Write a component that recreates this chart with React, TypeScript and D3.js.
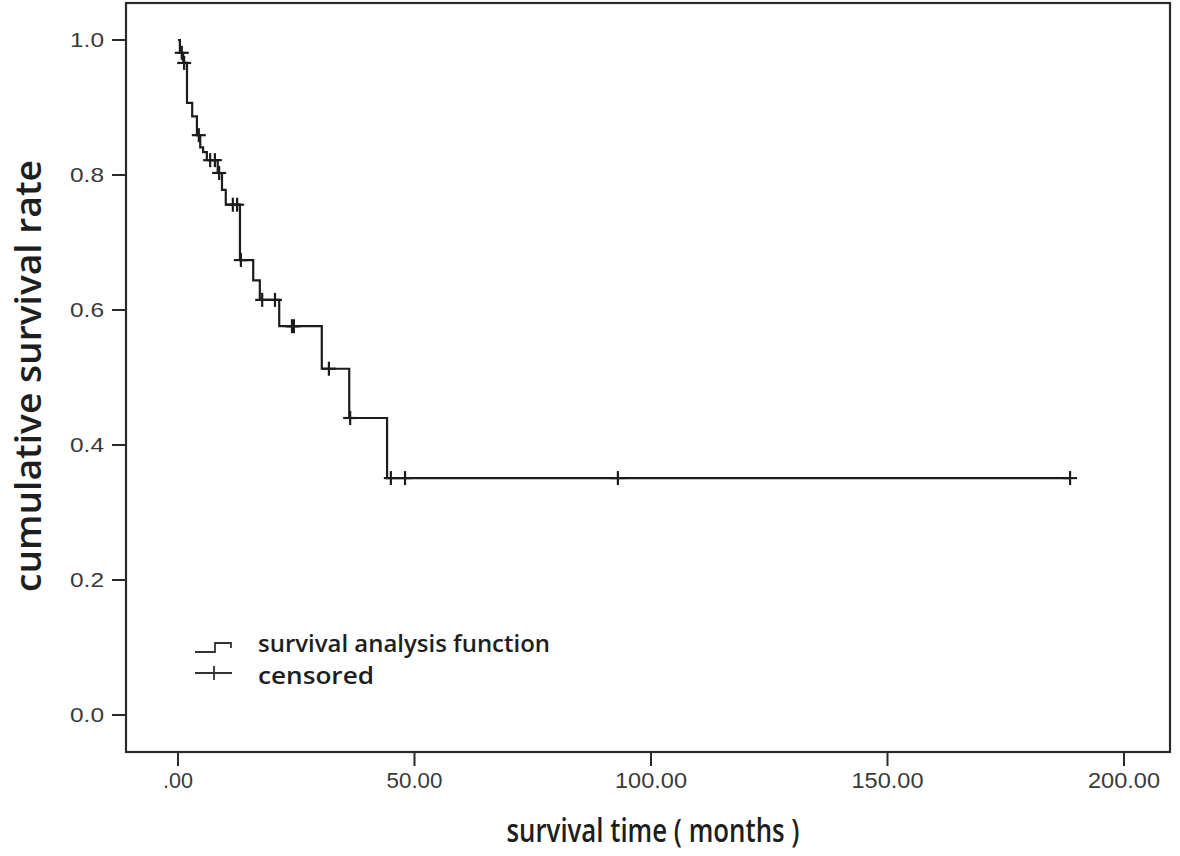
import React from "react";
import * as d3 from "d3";

const eventTimes = [0.4, 1.1, 1.9, 3.0, 4.0, 4.7, 5.3, 6.1, 8.4, 9.3, 10.1, 13.1, 15.9, 17.3, 21.4, 30.4, 36.2, 44.2];
const eventSurvival = [0.981, 0.966, 0.907, 0.887, 0.859, 0.841, 0.834, 0.822, 0.803, 0.778, 0.756, 0.674, 0.644, 0.615, 0.576, 0.513, 0.44, 0.351];
const censorTimes = [0.8, 1.3, 4.4, 6.8, 7.8, 8.7, 11.6, 12.5, 13.3, 17.8, 20.5, 24.1, 24.5, 31.9, 36.4, 45.0, 48.0, 93.0, 188.6];
const xTicks = [0, 50, 100, 150, 200];
const xTickLabels = [".00", "50.00", "100.00", "150.00", "200.00"];
const xTickWidths = [30, 56, 72, 72, 72];
const yTicks = [0, 0.2, 0.4, 0.6, 0.8, 1.0];
const yTickLabels = ["0.0", "0.2", "0.4", "0.6", "0.8", "1.0"];

const W = 1180, H = 856;
const frame = { left: 126, right: 1170, top: 3, bottom: 752 };

export default function App() {
  const x = d3.scaleLinear().domain([0, 200]).range([178, 1124]);
  const y = d3.scaleLinear().domain([0, 1]).range([715, 40]);

  const survAt = (t: number) => {
    let s = 1;
    for (let i = 0; i < eventTimes.length; i++) if (eventTimes[i] <= t) s = eventSurvival[i];
    return s;
  };

  const lastT = censorTimes[censorTimes.length - 1];
  const pts: [number, number][] = [[0, 1], ...eventTimes.map((t, i) => [t, eventSurvival[i]] as [number, number]), [lastT, eventSurvival[eventSurvival.length - 1]]];
  const line = d3.line<[number, number]>().x(d => x(d[0])).y(d => y(d[1])).curve(d3.curveStepAfter);

  const ink = "#1c1c1c";
  const arm = 7;
  const titleFont = "'Open Sans', 'DejaVu Sans', sans-serif";

  return (
    <svg width={W} height={H} style={{ position: "absolute", left: 0, top: 0, background: "#fff" }}>
      <rect x={0} y={0} width={W} height={H} fill="#fff" />
      <rect x={frame.left} y={frame.top} width={frame.right - frame.left} height={frame.bottom - frame.top} fill="none" stroke="#2a2a2a" strokeWidth={2.2} />
      {yTicks.map((v, i) => (
        <g key={"y" + i}>
          <line x1={112} x2={frame.left} y1={y(v)} y2={y(v)} stroke="#2a2a2a" strokeWidth={2} />
          <text x={104} y={y(v)} dy="0.36em" textAnchor="end" fontFamily="'Liberation Sans', Arial, sans-serif" fontSize={20} fill="#3a3a3a" textLength={34} lengthAdjust="spacingAndGlyphs">{yTickLabels[i]}</text>
        </g>
      ))}
      {xTicks.map((v, i) => (
        <g key={"x" + i}>
          <line x1={x(v)} x2={x(v)} y1={frame.bottom} y2={766} stroke="#2a2a2a" strokeWidth={2} />
          <text x={x(v)} y={788} textAnchor="middle" fontFamily="'Liberation Sans', Arial, sans-serif" fontSize={22} fill="#3a3a3a" textLength={xTickWidths[i]} lengthAdjust="spacingAndGlyphs">{xTickLabels[i]}</text>
        </g>
      ))}
      <path d={line(pts) || ""} fill="none" stroke={ink} strokeWidth={2.2} />
      {censorTimes.map((t, i) => {
        const cx = x(t), cy = y(survAt(t));
        return (
          <g key={"c" + i} stroke={ink} strokeWidth={2.2}>
            <line x1={cx - arm} x2={cx + arm} y1={cy} y2={cy} />
            <line x1={cx} x2={cx} y1={cy - arm} y2={cy + arm} />
          </g>
        );
      })}
      {/* legend */}
      <path d="M195,652 H215 V643 H231 V648" fill="none" stroke="#333" strokeWidth={1.8} />
      <text x={258} y={652} fontFamily="'Open Sans', sans-serif" fontWeight={600} fontSize={24} fill="#1e1e1e" textLength={292} lengthAdjust="spacingAndGlyphs">survival analysis function</text>
      <g stroke="#333" strokeWidth={1.8}>
        <line x1={195} x2={232} y1={673} y2={673} />
        <line x1={214} x2={214} y1={666} y2={680} />
      </g>
      <text x={258} y={684} fontFamily="'Open Sans', sans-serif" fontWeight={600} fontSize={24} fill="#1e1e1e" textLength={116} lengthAdjust="spacingAndGlyphs">censored</text>
      {/* axis titles */}
      <text transform="translate(41,376) rotate(-90)" textAnchor="middle" fontFamily={titleFont} fontWeight={600} fontSize={36} fill="#1e1e1e" textLength={432} lengthAdjust="spacingAndGlyphs">cumulative survival rate</text>
      <text x={653} y={842} textAnchor="middle" fontFamily={titleFont} fontWeight={600} fontSize={33} fill="#1e1e1e" textLength={293} lengthAdjust="spacingAndGlyphs">survival time ( months )</text>
    </svg>
  );
}
